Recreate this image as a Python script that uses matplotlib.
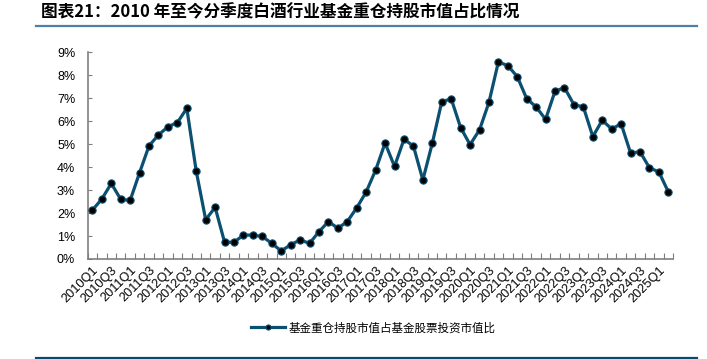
import matplotlib
matplotlib.use('Agg')
import matplotlib.pyplot as plt
from matplotlib.lines import Line2D
from matplotlib.ticker import FuncFormatter, MultipleLocator, FixedLocator

plt.rcParams['font.family'] = ['Liberation Sans', 'Noto Sans CJK SC', 'DejaVu Sans']

# 2010Q1 - 2025Q2 季度数据 (%)
quarters = [f"{y}Q{q}" for y in range(2010, 2026) for q in range(1, 5)][:62]
share = [2.13, 2.61, 3.29, 2.60, 2.55, 3.76, 4.93, 5.40, 5.76, 5.94,
         6.56, 3.82, 1.71, 2.25, 0.73, 0.73, 1.04, 1.04, 0.98, 0.68,
         0.35, 0.62, 0.83, 0.68, 1.19, 1.63, 1.34, 1.63, 2.23, 2.92,
         3.87, 5.05, 4.03, 5.21, 4.92, 3.44, 5.04, 6.84, 6.98, 5.72,
         4.98, 5.62, 6.82, 8.58, 8.42, 7.94, 6.98, 6.62, 6.08, 7.31,
         7.46, 6.72, 6.62, 5.33, 6.04, 5.66, 5.89, 4.61, 4.67, 3.97,
         3.79, 2.92]
series_name = "基金重仓持股市值占基金股票投资市值比"
title = "图表21：2010 年至今分季度白酒行业基金重仓持股市值占比情况"

LINE_C = '#0b4f71'
AXIS_C = '#7f7f7f'

fig = plt.figure(figsize=(7.07, 3.59), dpi=100)
ax = fig.add_axes([0.124, 0.2786, 0.828, 0.5757])

x = list(range(len(share)))
ax.plot(x, share, color=LINE_C, lw=2.3, marker='o', ms=5.2,
        mfc='black', mec=LINE_C, mew=0.8, label=series_name, zorder=3)

ax.set_xlim(-0.5, len(share) - 0.5)
ax.set_ylim(0, 9)
ax.yaxis.set_major_locator(MultipleLocator(1))
ax.yaxis.set_major_formatter(FuncFormatter(lambda v, p: f"{v:.0f}%"))

# x 轴: 刻度在分类边界, 标签每两季度一个
ax.xaxis.set_major_locator(FixedLocator([i - 0.5 for i in range(len(share) + 1)]))
ax.set_xticklabels([])
ax.xaxis.set_minor_locator(FixedLocator(x[::2]))
ax.set_xticklabels(quarters[::2], minor=True, rotation=45, ha='right',
                   va='top', rotation_mode='anchor', fontsize=9.2)
ax.tick_params(axis='x', which='major', direction='in', length=4, width=0.8, color=AXIS_C)
ax.tick_params(axis='x', which='minor', length=0, pad=4)
ax.tick_params(axis='y', direction='in', length=3, width=0.8, color=AXIS_C,
               labelsize=9, pad=9)

for s in ['top', 'right']:
    ax.spines[s].set_visible(False)
for s in ['left', 'bottom']:
    ax.spines[s].set_color(AXIS_C)
    ax.spines[s].set_linewidth(1.2)

fig.legend(loc='center', bbox_to_anchor=(0.528, 0.087), frameon=False,
           handlelength=3.0, handletextpad=0.3, markerscale=0.7,
           prop={'family': ['Noto Sans CJK SC', 'DejaVu Sans'], 'size': 8.3})

fig.text(0.058, 0.965, title, fontsize=12, fontweight='bold', style='italic',
         ha='left', va='center', family=['Noto Sans CJK SC', 'DejaVu Sans'])

fig.add_artist(Line2D([0.051, 0.986], [0.9284, 0.9284], color='#4f7fa6', lw=1.6))
fig.add_artist(Line2D([0.051, 0.986], [0.004, 0.004], color='#0b4a6f', lw=1.6))

fig.savefig('out.png', dpi=100)
